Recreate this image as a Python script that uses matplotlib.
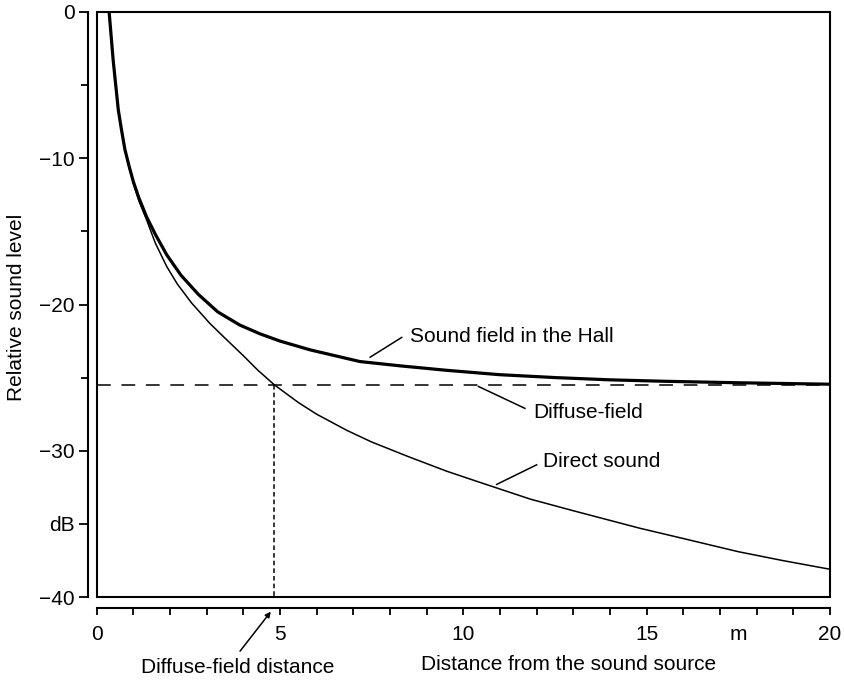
import matplotlib
matplotlib.use('Agg')
import matplotlib.pyplot as plt
from matplotlib.patches import Rectangle

plt.rcParams['font.family'] = ['Liberation Sans', 'DejaVu Sans']
plt.rcParams['font.size'] = 15

# values (distance in m, level in dB)
direct_x = [0.34, 0.4, 0.45, 0.52, 0.59, 0.68, 0.77, 0.88, 1.0, 1.15, 1.36, 1.6,
            1.91, 2.2, 2.59, 3.09, 3.5, 4.0, 4.4, 4.85, 5.5, 6.0, 6.82, 7.5, 8.5,
            9.55, 10.5, 11.82, 13.0, 14.82, 16.0, 17.5, 18.7, 20.0]
direct_y = [0, -1.8, -3.3, -5.0, -6.7, -8.1, -9.4, -10.6, -11.7, -12.9, -14.2, -15.8,
            -17.4, -18.6, -19.9, -21.3, -22.3, -23.5, -24.5, -25.5, -26.7, -27.5, -28.6,
            -29.4, -30.4, -31.4, -32.2, -33.3, -34.1, -35.3, -36.0, -36.9, -37.5, -38.1]

hall_x = [0.34, 0.4, 0.45, 0.52, 0.59, 0.68, 0.77, 0.88, 1.0, 1.15, 1.36, 1.6, 1.91,
          2.3, 2.77, 3.3, 3.9, 4.45, 5.0, 5.82, 6.5, 7.18, 8.3, 9.55, 11.0, 12.54,
          14.0, 15.5, 17.5, 20.0]
hall_y = [0, -1.8, -3.3, -5.0, -6.7, -8.1, -9.4, -10.5, -11.6, -12.7, -14.0, -15.2,
          -16.6, -18.0, -19.3, -20.5, -21.4, -22.0, -22.5, -23.1, -23.5, -23.9, -24.2,
          -24.5, -24.8, -25.0, -25.15, -25.25, -25.35, -25.45]

diffuse_level = -25.5
diffuse_distance = 4.85

xticks = [0, 5, 10, 15, 17.5, 20]
xticklabels = ['0', '5', '10', '15', 'm', '20']
yticks = [0, -10, -20, -30, -35, -40]
yticklabels = ['0', '\u221210', '\u221220', '\u221230', 'dB', '\u221240']

fig = plt.figure(figsize=(8.45, 6.8), dpi=100)
ax = fig.add_axes([0.1144, 0.122, 0.8678, 0.8604])

ax.plot(direct_x, direct_y, color='black', lw=1.1, solid_joinstyle='round')
ax.plot(hall_x, hall_y, color='black', lw=2.3, solid_joinstyle='round')
ax.plot([0, 20], [diffuse_level, diffuse_level], color='black', lw=1.1,
        dashes=(9, 7))
ax.plot([diffuse_distance, diffuse_distance], [diffuse_level, -40], color='black',
        lw=1.1, dashes=(3, 2))

ax.set_xlim(0, 20)
ax.set_ylim(-40, 0)

# frame around the plot, axes drawn apart from it
ax.add_patch(Rectangle((0, 0), 1, 1, transform=ax.transAxes, fill=False,
                       lw=1.5, color='black', clip_on=False, zorder=5))
ax.spines['top'].set_visible(False)
ax.spines['right'].set_visible(False)
ax.spines['left'].set_position(('outward', 6))
ax.spines['bottom'].set_position(('outward', 8))
ax.spines['left'].set_linewidth(1.5)
ax.spines['bottom'].set_linewidth(1.5)

ax.set_xticks(xticks)
ax.set_xticklabels(xticklabels)
ax.set_xticks(range(0, 21), minor=True)
ax.set_yticks(yticks)
ax.set_yticklabels(yticklabels)
ax.set_yticks([-5, -15, -25], minor=True)
ax.tick_params(axis='x', which='both', direction='out', length=5, width=1.3, pad=7)
ax.tick_params(axis='y', which='major', direction='out', length=6.5, width=1.3, pad=3.5)
ax.tick_params(axis='y', which='minor', direction='out', length=5, width=1.3)
ax.xaxis.get_major_ticks()[4].tick1line.set_visible(False)

ax.text(-0.109, 0.495, 'Relative sound level', transform=ax.transAxes,
        rotation=90, ha='center', va='center')
ax.text(0.644, -0.116, 'Distance from the sound source', transform=ax.transAxes,
        ha='center', va='center')
ax.text(0.192, -0.121, 'Diffuse-field distance', transform=ax.transAxes,
        ha='center', va='center')
ax.annotate('', xy=(4.75, -41.0), xytext=(3.91, -43.7), annotation_clip=False,
            arrowprops=dict(arrowstyle='-|>', color='black', lw=1.1,
                            mutation_scale=8, shrinkA=0, shrinkB=0))

# labels with leader lines
ax.text(8.55, -22.2, 'Sound field in the Hall', ha='left', va='center')
ax.plot([7.46, 8.32], [-23.6, -22.25], color='black', lw=1.1)
ax.text(11.9, -27.4, 'Diffuse-field', ha='left', va='center')
ax.plot([10.41, 11.68], [-25.6, -27.1], color='black', lw=1.1)
ax.text(12.18, -30.75, 'Direct sound', ha='left', va='center')
ax.plot([10.91, 12.0], [-32.3, -30.96], color='black', lw=1.1)

fig.savefig('out.png', dpi=100)
